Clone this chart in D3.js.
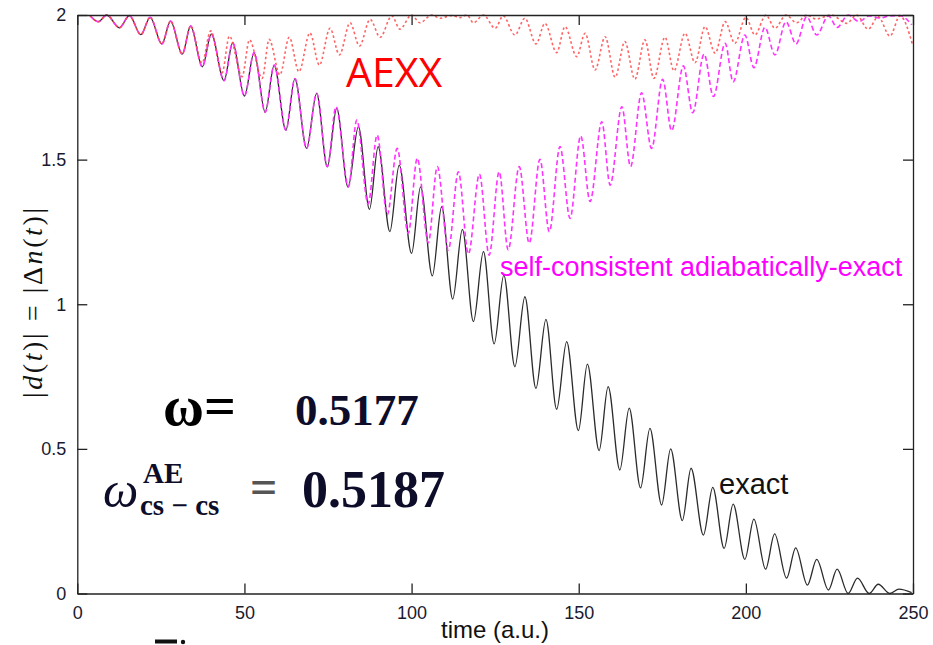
<!DOCTYPE html>
<html>
<head>
<meta charset="utf-8">
<script src="https://cdn.jsdelivr.net/npm/d3@7"></script>
<style>
  body { margin: 0; background: #fff; }
  svg { display: block; }
</style>
</head>
<body>
<div id="chart"></div>
<script>
// extrema (time, |d(t)|)
const exactCurve = [
  [3.8,1.998],[6.3,1.977],[8.8,2.0],[12.6,1.956],[15.6,1.998],[19.0,1.932],[21.8,1.992],[25.3,1.900],
  [27.9,1.979],[31.4,1.865],[33.9,1.962],[37.4,1.821],[40.1,1.934],[43.9,1.773],[46.5,1.904],[50.0,1.720],
  [52.9,1.870],[56.2,1.664],[58.9,1.827],[62.4,1.602],[65.1,1.780],[68.6,1.539],[71.6,1.729],[74.8,1.475],
  [77.6,1.677],[81.0,1.405],[84.1,1.614],[87.4,1.328],[90.0,1.545],[93.5,1.251],[96.3,1.481],[100.0,1.176],
  [102.7,1.406],[106.2,1.098],[109.0,1.337],[112.3,1.018],[115.2,1.259],[118.5,0.940],[121.5,1.182],[124.7,0.863],
  [127.6,1.101],[130.9,0.784],[133.9,1.026],[137.2,0.709],[140.2,0.948],[143.4,0.637],[146.4,0.871],[149.9,0.563],
  [152.6,0.793],[156.1,0.494],[158.8,0.715],[162.3,0.427],[165.1,0.641],[168.5,0.365],[171.3,0.571],[174.8,0.306],
  [177.5,0.500],[181.0,0.252],[183.6,0.433],[187.3,0.202],[190.1,0.367],[193.5,0.156],[196.2,0.309],[199.7,0.118],
  [202.4,0.257],[205.9,0.084],[208.6,0.206],[212.2,0.053],[214.9,0.158],[218.4,0.029],[221.2,0.118],[224.7,0.012],
  [227.3,0.084],[230.6,0.000],[233.4,0.053],[236.9,0.000],[239.6,0.032],[243.1,0.000],[245.8,0.015],[249.6,0.003]
];

const selfConsistentCurve = [
  [3.8,1.998],[6.3,1.977],[8.8,2.0],[12.6,1.956],[15.6,1.998],[19.0,1.932],[21.8,1.992],[25.3,1.900],
  [27.9,1.979],[31.4,1.865],[33.9,1.962],[37.4,1.821],[40.1,1.934],[43.9,1.773],[46.5,1.904],[50.0,1.720],
  [52.9,1.870],[56.2,1.664],[58.9,1.827],[62.4,1.602],[65.1,1.780],[68.6,1.539],[71.6,1.729],[74.8,1.476],
  [77.4,1.683],[81.1,1.406],[83.6,1.637],[87.0,1.347],[89.7,1.585],[92.7,1.309],[95.7,1.539],[99.0,1.245],
  [101.7,1.505],[105.0,1.213],[107.7,1.476],[111.0,1.188],[114.0,1.458],[117.0,1.174],[120.3,1.450],[123.2,1.170],
  [126.2,1.458],[128.9,1.188],[132.2,1.476],[135.2,1.211],[138.4,1.501],[141.2,1.251],[144.4,1.545],[147.4,1.297],
  [150.6,1.582],[153.4,1.355],[156.9,1.631],[159.4,1.412],[162.9,1.683],[165.5,1.476],[168.8,1.731],[171.8,1.539],
  [175.1,1.778],[177.8,1.600],[181.3,1.824],[184.1,1.662],[187.5,1.865],[190.3,1.718],[193.8,1.902],[196.2,1.769],
  [199.7,1.931],[202.4,1.818],[205.7,1.957],[208.7,1.862],[212.0,1.977],[215.0,1.900],[218.2,1.994],[221.2,1.931],
  [224.7,1.997],[227.3,1.957],[230.6,2.0],[233.9,1.977],[236.8,1.997],[240.1,1.989],[243.1,1.997],[246.1,1.998],
  [249.6,1.966]
];

const aexxCurve = [
  [3.8,1.998],[6.3,1.977],[8.8,2.0],[12.6,1.956],[15.6,1.998],[19.0,1.932],[21.8,1.992],[25.3,1.900],
  [27.9,1.979],[31.4,1.865],[33.9,1.962],[37.3,1.834],[39.9,1.945],[43.3,1.800],[45.5,1.927],[49.3,1.787],
  [51.5,1.914],[55.3,1.781],[57.4,1.916],[60.6,1.793],[63.4,1.923],[66.3,1.804],[69.6,1.938],[72.4,1.827],
  [75.6,1.954],[78.4,1.862],[81.6,1.973],[84.4,1.893],[87.6,1.985],[90.6,1.923],[94.1,1.997],[96.5,1.951],
  [100.0,2.0],[102.5,1.973],[106.0,2.0],[108.5,1.989],[112.0,1.998],[114.5,1.991],[116.6,2.0],[118.5,1.973],
  [121.5,2.0],[125.0,1.954],[127.4,1.997],[130.9,1.931],[133.9,1.989],[137.2,1.900],[139.9,1.971],[143.4,1.870],
  [145.9,1.960],[149.4,1.856],[151.9,1.937],[154.9,1.810],[157.9,1.925],[160.9,1.785],[163.8,1.908],[166.8,1.778],
  [169.8,1.914],[172.5,1.781],[175.8,1.923],[178.5,1.807],[181.8,1.937],[184.8,1.835],[187.8,1.960],[190.8,1.868],
  [193.8,1.977],[196.7,1.902],[200.0,1.992],[202.7,1.931],[206.0,2.0],[208.7,1.954],[212.0,2.0],[215.2,1.973],
  [218.2,2.0],[221.0,1.986],[225.6,2.0],[230.2,1.971],[233.1,2.0],[236.6,1.951],[239.6,1.994],[243.1,1.927],
  [246.1,1.997],[249.9,1.896]
];

const xTicks = [0, 50, 100, 150, 200, 250];
const yTicks = [0, 0.5, 1, 1.5, 2];
const yTickLabels = ['0', '0.5', '1', '1.5', '2'];

const W = 933, H = 645;
const margin = { left: 77.3, right: 913, top: 15, bottom: 593.5 };

const svg = d3.select('#chart').append('svg')
  .attr('width', W)
  .attr('height', H);

const x = d3.scaleLinear().domain([0, 250]).range([margin.left, margin.right]);
const y = d3.scaleLinear().domain([0, 2]).range([margin.bottom, margin.top]);

const line = d3.line()
  .x(d => x(d[0]))
  .y(d => y(d[1]))
  .curve(d3.curveMonotoneX);

// curves
svg.append('path')
  .attr('d', line(exactCurve))
  .attr('fill', 'none')
  .attr('stroke', '#2b2b2b')
  .attr('stroke-width', 1.3);

svg.append('path')
  .attr('d', line(selfConsistentCurve))
  .attr('fill', 'none')
  .attr('stroke', '#ff33ff')
  .attr('stroke-width', 1.6)
  .attr('stroke-dasharray', '5,3');

svg.append('path')
  .attr('d', line(aexxCurve))
  .attr('fill', 'none')
  .attr('stroke', '#ff4a4a')
  .attr('stroke-opacity', 0.85)
  .attr('stroke-width', 1.6)
  .attr('stroke-dasharray', '2.5,2.5');

// axes with inward ticks on all four sides
const axisColor = '#222';
const gx = svg.append('g')
  .attr('transform', `translate(0,${margin.bottom})`)
  .call(d3.axisBottom(x).tickValues(xTicks).tickSizeInner(-10).tickSizeOuter(0).tickPadding(13).tickFormat(d3.format('d')));
const gy = svg.append('g')
  .attr('transform', `translate(${margin.left},0)`)
  .call(d3.axisLeft(y).tickValues(yTicks).tickSizeInner(-10).tickSizeOuter(0).tickPadding(11)
    .tickFormat((d, i) => yTickLabels[i]));
const gt = svg.append('g')
  .attr('transform', `translate(0,${margin.top})`)
  .call(d3.axisTop(x).tickValues(xTicks).tickSizeInner(-10).tickSizeOuter(0).tickFormat(''));
const gr = svg.append('g')
  .attr('transform', `translate(${margin.right},0)`)
  .call(d3.axisRight(y).tickValues(yTicks).tickSizeInner(-10).tickSizeOuter(0).tickFormat(''));

[gx, gy, gt, gr].forEach(g => {
  g.selectAll('path, line').attr('stroke', axisColor).attr('stroke-width', 1.3);
  g.selectAll('text')
    .attr('fill', '#1a1a30')
    .style('font-family', '"Liberation Sans", Arial, sans-serif')
    .style('font-size', '18px');
});

// axis titles
svg.append('text')
  .attr('x', 495)
  .attr('y', 638)
  .attr('text-anchor', 'middle')
  .style('font-family', '"Liberation Sans", Arial, sans-serif')
  .style('font-size', '24px')
  .attr('fill', '#111')
  .text('time (a.u.)');

const ylab = svg.append('text')
  .attr('transform', 'translate(42,303) rotate(-90)')
  .attr('text-anchor', 'middle')
  .attr('textLength', 190)
  .attr('lengthAdjust', 'spacing')
  .style('font-family', '"Liberation Serif", "Times New Roman", serif')
  .style('font-size', '28px')
  .attr('fill', '#111');
[['|', 'normal'], ['d', 'italic'], ['(', 'normal'], ['t', 'italic'], [')| = |Δ', 'normal'],
 ['n', 'italic'], ['(', 'normal'], ['t', 'italic'], [')|', 'normal']].forEach(([s, st]) => {
  ylab.append('tspan').style('font-style', st).text(s);
});

// annotations
svg.append('text')
  .attr('x', 346).attr('y', 87)
  .style('font-family', '"Open Sans", "Noto Sans", sans-serif')
  .style('font-size', '41px')
  .attr('fill', '#ff0000')
  .text('AEXX');

svg.append('text')
  .attr('x', 500).attr('y', 276)
  .style('font-family', '"Liberation Sans", Arial, sans-serif')
  .style('font-size', '27px')
  .attr('fill', '#ff00ff')
  .text('self-consistent adiabatically-exact');

svg.append('text')
  .attr('x', 719).attr('y', 494)
  .style('font-family', '"Liberation Sans", Arial, sans-serif')
  .style('font-size', '29px')
  .attr('fill', '#111')
  .text('exact');

const serif = '"Liberation Serif", "Times New Roman", serif';

svg.append('text')
  .attr('x', 163).attr('y', 425)
  .style('font-family', serif)
  .style('font-size', '56px')
  .style('font-weight', 'bold')
  .attr('fill', '#000')
  .text('ω=');

svg.append('text')
  .attr('x', 295).attr('y', 425)
  .style('font-family', serif)
  .style('font-size', '45px')
  .style('font-weight', 'bold')
  .attr('fill', '#0d0d2a')
  .text('0.5177');

svg.append('text')
  .attr('x', 103).attr('y', 507)
  .style('font-family', serif)
  .style('font-size', '50px')
  .style('font-style', 'italic')
  .attr('fill', '#0d0d2a')
  .text('ω');

svg.append('text')
  .attr('x', 143).attr('y', 483)
  .style('font-family', serif)
  .style('font-size', '29px')
  .style('font-weight', 'bold')
  .attr('fill', '#0d0d2a')
  .text('AE');

svg.append('text')
  .attr('x', 140).attr('y', 515)
  .style('font-family', serif)
  .style('font-size', '29px')
  .style('font-weight', 'bold')
  .attr('fill', '#0d0d2a')
  .text('cs − cs');

svg.append('text')
  .attr('x', 250).attr('y', 503)
  .style('font-family', serif)
  .style('font-size', '48px')
  .style('font-weight', 'bold')
  .attr('fill', '#555')
  .text('=');

svg.append('text')
  .attr('x', 302).attr('y', 507)
  .style('font-family', serif)
  .style('font-size', '52px')
  .style('font-weight', 'bold')
  .attr('fill', '#0d0d2a')
  .text('0.5187');

// cropped glyph fragment at the bottom edge
svg.append('rect')
  .attr('x', 155).attr('y', 639.5).attr('width', 22).attr('height', 4)
  .attr('fill', '#111');
svg.append('circle')
  .attr('cx', 183).attr('cy', 642).attr('r', 2.2)
  .attr('fill', '#111');
</script>
</body>
</html>
